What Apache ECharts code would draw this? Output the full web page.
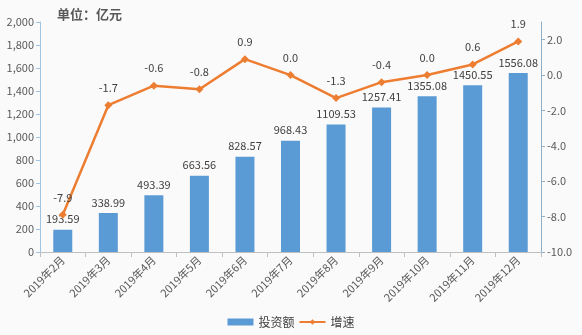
<!DOCTYPE html>
<html><head><meta charset="utf-8">
<script src="https://cdn.jsdelivr.net/npm/echarts@6/dist/echarts.min.js"></script>
<style>html,body{margin:0;padding:0;background:#fafafa}#c{width:582px;height:335px}</style>
</head><body><div id="c"></div>
<script>
const categories = ['2019年2月','2019年3月','2019年4月','2019年5月','2019年6月','2019年7月','2019年8月','2019年9月','2019年10月','2019年11月','2019年12月'];
const investment = [193.59, 338.99, 493.39, 663.56, 828.57, 968.43, 1109.53, 1257.41, 1355.08, 1450.55, 1556.08];
const growth = [-7.9, -1.7, -0.6, -0.8, 0.9, 0.0, -1.3, -0.4, 0.0, 0.6, 1.9];
const seriesNames = ['投资额', '增速'];
const unitTitle = '单位：亿元';

const chart = echarts.init(document.getElementById('c'));
const font = '"Microsoft YaHei","Noto Sans CJK SC",sans-serif';
chart.setOption({
  backgroundColor: '#fafafa',
  animation: false,
  textStyle: { fontFamily: font },
  title: { text: unitTitle, left: 52, top: 3, textStyle: { fontSize: 13, fontWeight: 'bold', color: '#595959', fontFamily: font } },
  legend: {
    bottom: 2, left: 'center', itemGap: 4, itemWidth: 26, itemHeight: 7,
    textStyle: { fontSize: 12, color: '#404040' },
    data: [{ name: seriesNames[0], icon: 'rect' }, { name: seriesNames[1] }]
  },
  grid: { left: 40, right: 41, top: 22, bottom: 83, containLabel: false },
  xAxis: {
    type: 'category', data: categories,
    axisLine: { lineStyle: { color: '#bfbfbf' } },
    axisTick: { show: true, alignWithLabel: false, length: 5, lineStyle: { color: '#bfbfbf' } },
    axisLabel: { rotate: 45, fontSize: 11, color: '#595959', margin: 6, interval: 0 }
  },
  yAxis: [
    {
      type: 'value', min: 0, max: 2000, interval: 200,
      axisLine: { show: true, lineStyle: { color: '#9dc3e6' } },
      axisTick: { show: true, length: 4, lineStyle: { color: '#9dc3e6' } },
      splitLine: { show: false },
      axisLabel: { fontSize: 11, color: '#595959', margin: 6,
        formatter: v => v.toLocaleString('en-US') }
    },
    {
      type: 'value', min: -10, max: 3, interval: 2,
      axisLine: { show: true, lineStyle: { color: '#8fafc8' } },
      axisTick: { show: true, length: 4, lineStyle: { color: '#8fafc8' } },
      splitLine: { show: false },
      axisLabel: { fontSize: 11, color: '#595959', margin: 6, showMaxLabel: false,
        formatter: v => v.toFixed(1) }
    }
  ],
  series: [
    {
      name: seriesNames[0], type: 'bar', data: investment, barWidth: 19,
      itemStyle: { color: '#5b9bd5' },
      label: { show: true, position: 'top', distance: 5, fontSize: 11, color: '#404040',
        formatter: p => p.value.toFixed(2) }
    },
    {
      name: seriesNames[1], type: 'line', yAxisIndex: 1, data: growth,
      symbol: 'diamond', symbolSize: 8,
      lineStyle: { color: '#ed7d31', width: 2.5 },
      itemStyle: { color: '#ed7d31' },
      label: { show: true, position: 'top', distance: 8, fontSize: 11, color: '#404040',
        formatter: p => p.value.toFixed(1) }
    }
  ]
});
</script></body></html>
